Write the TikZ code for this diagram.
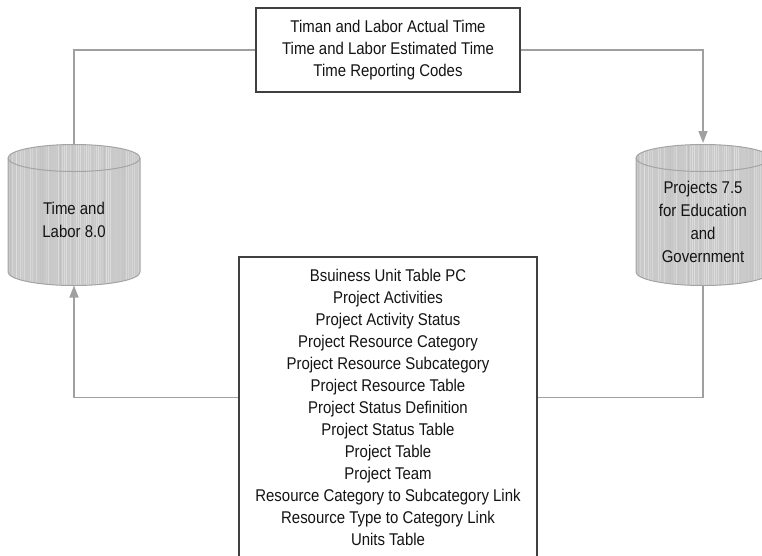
\documentclass[tikz,border=0pt]{standalone}
\usepackage{fontspec}
\setmainfont[FakeStretch=0.88]{Liberation Sans}
\usetikzlibrary{arrows.meta}
\definecolor{linkgray}{HTML}{A0A0A0}
\definecolor{boxedge}{HTML}{404040}
\definecolor{drumedge}{HTML}{A4A4A4}
\definecolor{inktext}{HTML}{141414}

% striped database drum: #1 = centre x, #2 = half width
\newcommand\drawdrum[2]{%
  \begin{scope}
    \clip ({#1-#2},158) arc[start angle=180,end angle=360,x radius=#2,y radius=13.5]
          -- ({#1+#2},272) arc[start angle=0,end angle=180,x radius=#2,y radius=13.5] -- cycle;
    \fill[black!21] ({#1-#2},140) rectangle ({#1+#2},290);
    \pgfmathsetseed{11}
    \foreach \k in {0,2,...,140}{%
      \pgfmathtruncatemacro\g{13+13*rnd}%
      \fill[black!\g] ({#1-#2+\k},140) rectangle ++(1.2,150);
    }
  \end{scope}
  \draw[drumedge,line width=1pt,line join=round]
        ({#1-#2},158) arc[start angle=180,end angle=360,x radius=#2,y radius=13.5]
        -- ({#1+#2},272) arc[start angle=0,end angle=180,x radius=#2,y radius=13.5] -- cycle;
  \draw[drumedge,line width=1pt]
        ({#1-#2},158) arc[start angle=180,end angle=0,x radius=#2,y radius=13.5];
}

\begin{document}
\begin{tikzpicture}[x=1pt,y=-1pt,
  tablebox/.style={draw=boxedge,line width=1.2pt,fill=white,align=center,
    text=inktext,font=\fontsize{17}{22}\selectfont,inner sep=0pt},
  drumtext/.style={align=center,text=inktext,font=\fontsize{17}{23}\selectfont},
  link/.style={draw=linkgray,line width=1.5pt},
  tip/.style={-{Triangle[length=12pt,width=9pt]}}]
\useasboundingbox (0,0) rectangle (762,555);

% databases
\drawdrum{74}{66}
\drawdrum{703}{67}
\node[drumtext] (tl) at (74,220) {Time and\\Labor 8.0};
\node[drumtext] (pe) at (703,222) {Projects 7.5\\for Education\\and\\Government};
\coordinate (tltop) at (74,144.5);
\coordinate (tlbot) at (74,285.5);
\coordinate (petop) at (703,143);
\coordinate (pebot) at (703,285.5);

% table lists
\node[tablebox,minimum width=264,minimum height=84] (codes) at (388,50)
  {Timan and Labor Actual Time\\Time and Labor Estimated Time\\Time Reporting Codes};
\node[tablebox,minimum width=298,minimum height=301] (pctables) at (388,407.5)
  {Bsuiness Unit Table PC\\Project Activities\\Project Activity Status\\
   Project Resource Category\\Project Resource Subcategory\\Project Resource Table\\
   Project Status Definition\\Project Status Table\\Project Table\\Project Team\\
   Resource Category to Subcategory Link\\Resource Type to Category Link\\Units Table};

% data flow
\draw[link] (codes.west) -| (tltop);
\draw[link,tip] (codes.east) -| (petop);
\draw[link,tip] ([yshift=-141pt]pctables.north west) -| (tlbot);
\draw[link] ([yshift=-141pt]pctables.north east) -| (pebot);
\end{tikzpicture}
\end{document}
